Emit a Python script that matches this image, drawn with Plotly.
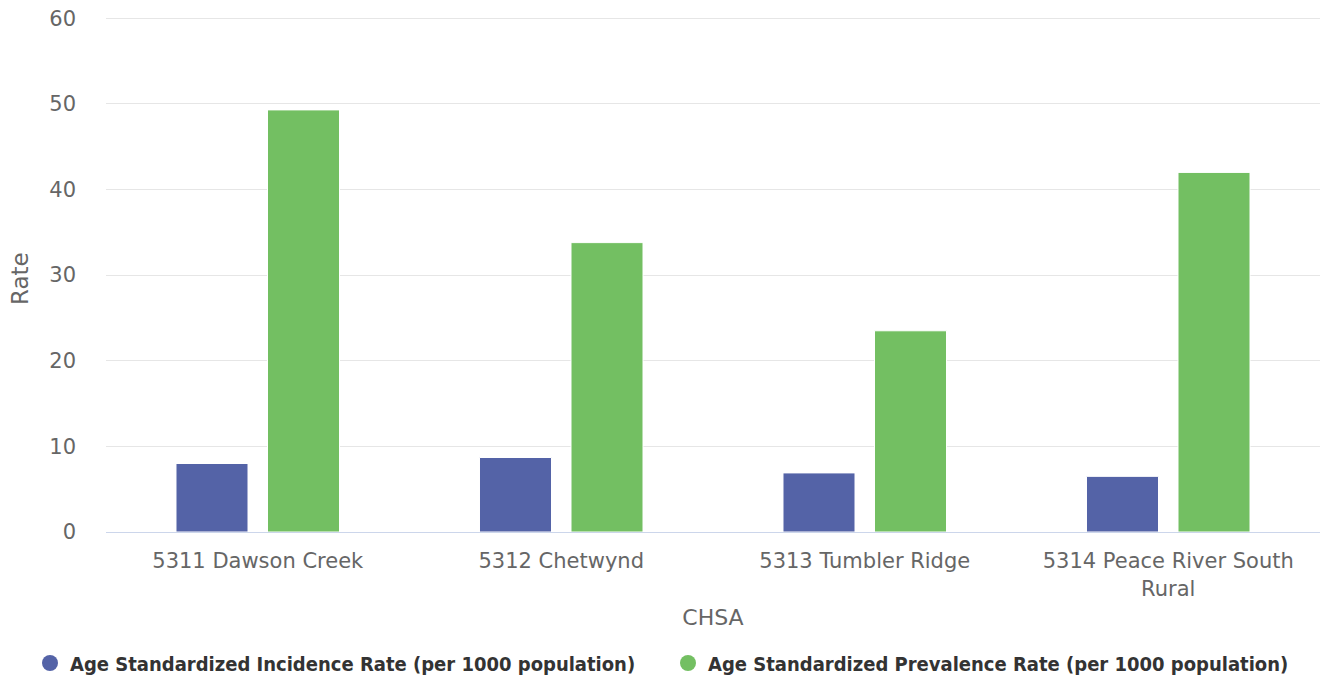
import plotly.graph_objects as go

categories = ["5311 Dawson Creek", "5312 Chetwynd", "5313 Tumbler Ridge", "5314 Peace River South<br>Rural"]
incidence = [8.0, 8.7, 6.9, 6.5]
prevalence = [49.3, 33.8, 23.5, 42.0]
series_names = ["Age Standardized Incidence Rate (per 1000 population)",
                "Age Standardized Prevalence Rate (per 1000 population)"]
colors = ["#5463a7", "#73bf62"]
y_ticks = [0, 10, 20, 30, 40, 50, 60]
legend_ids = ["legend", "legend2"]
y_title = "Rate"
x_title = "CHSA"

fig = go.Figure()
for name, vals, col in zip(series_names, [incidence, prevalence], colors):
    fig.add_trace(go.Bar(x=categories, y=vals, name=name, marker=dict(color=col, line=dict(color="white", width=1)),
                         showlegend=False))
for name, col, lg in zip(series_names, colors, legend_ids):
    fig.add_trace(go.Scatter(x=[None], y=[None], mode="markers", name=name, legend=lg,
                             marker=dict(color=col, size=16, symbol="circle")))

legend_font = dict(size=20, color="#333333", family="DejaVu Sans Condensed, DejaVu Sans", weight="bold")
fig.update_layout(
    width=1321, height=677,
    margin=dict(l=106, r=1, t=17, b=145, autoexpand=False),
    paper_bgcolor="white", plot_bgcolor="white",
    barmode="group", bargap=0.397, bargroupgap=0.213,
    font=dict(family="DejaVu Sans", color="#666666"),
    xaxis=dict(showgrid=False, showline=True, linecolor="#ccd6eb", linewidth=1,
               tickfont=dict(size=21, color="#666666"), ticks="", ticklabelstandoff=10,
               title=dict(text=x_title, font=dict(size=22, color="#666666"), standoff=10)),
    yaxis=dict(range=[0, 60.15], tickvals=y_ticks, showgrid=True, gridcolor="#e6e6e6", gridwidth=1,
               zeroline=False, showline=False, ticks="",
               tickfont=dict(size=21, color="#666666"), ticklabelstandoff=29),
    legend=dict(xref="container", yref="container", x=30 / 1321, y=1 - 663 / 677,
                xanchor="left", yanchor="middle", itemsizing="trace", font=legend_font),
    legend2=dict(xref="container", yref="container", x=668 / 1321, y=1 - 663 / 677,
                 xanchor="left", yanchor="middle", itemsizing="trace", font=legend_font),
)
fig.add_annotation(text=y_title, xref="paper", yref="paper", x=-86 / 1214, y=(532 - 279) / 515,
                   xanchor="center", yanchor="middle", textangle=-90, showarrow=False,
                   font=dict(size=23, color="#666666", family="DejaVu Sans"))

fig.write_html("out.html", config=dict(displayModeBar=False),
               post_script="document.body.style.margin='0';")
